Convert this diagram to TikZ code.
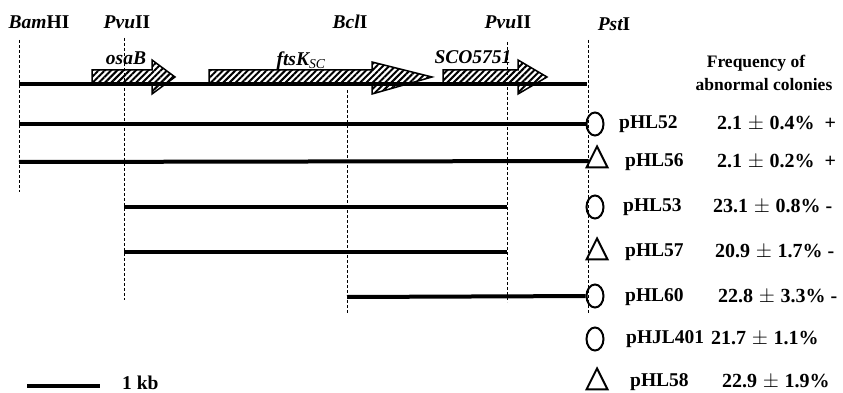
\documentclass[tikz,border=0pt]{standalone}
\usepackage{fontspec}
\setmainfont{Liberation Serif}
\usetikzlibrary{shapes.geometric,patterns.meta}
\newcommand{\pmsp}{\hspace{0.28em}$\pm$\hspace{0.28em}}
\tikzset{
  lbl/.style={inner sep=0pt, font=\fontsize{19.5}{22}\selectfont\bfseries},
  val/.style={inner sep=0pt, anchor=west, font=\fontsize{20}{22}\selectfont\bfseries},
  hdr/.style={inner sep=0pt, font=\fontsize{17.5}{21}\selectfont\bfseries, align=center},
  frag/.style={line width=4pt},
  site/.style={line width=1pt, dash pattern=on 3pt off 2pt},
  gene/.style={draw, line width=1.5pt, line join=miter, pattern={Lines[angle=45,distance=4.4pt,line width=2pt]}},
  ring/.style={draw, ellipse, line width=2pt, minimum width=17pt, minimum height=23pt, inner sep=0pt},
  tri/.style={draw, isosceles triangle, shape border rotate=90, isosceles triangle stretches, minimum width=21pt, minimum height=21pt, inner sep=0pt, line width=2pt, line join=miter}
}
\begin{document}
\begin{tikzpicture}[x=1pt,y=-1pt]
\useasboundingbox (0,0) rectangle (843,393);

% restriction sites
\node[lbl] (bam) at (39,22) {\itshape Bam\upshape HI};
\node[lbl] (pvu1) at (127,22) {\itshape Pvu\upshape II};
\node[lbl] (bcl) at (350,22) {\itshape Bcl\upshape I};
\node[lbl] (pvu2) at (508,22) {\itshape Pvu\upshape II};
\node[lbl] (pst) at (614,24) {\itshape Pst\upshape I};

\coordinate (bamT) at (19,40);  \coordinate (bamB) at (19,192);
\coordinate (pv1T) at (124,38); \coordinate (pv1B) at (124,300);
\coordinate (bclT) at (347,90); \coordinate (bclB) at (347,313);
\coordinate (pv2T) at (507,42); \coordinate (pv2B) at (507,302);
\coordinate (pstT) at (588,40); \coordinate (pstB) at (588,313);
\draw[site] (bamT) -- (bamB);
\draw[site] (pv1T) -- (pv1B);
\draw[site] (bclT) -- (bclB);
\draw[site] (pv2T) -- (pv2B);
\draw[site] (pstT) -- (pstB);

% map line
\coordinate (m0) at (19,84); \coordinate (m1) at (587,84);
\draw[frag] (m0) -- (m1);

% genes
\draw[gene] (92,70) -- (152,70) -- (152,60) -- (175,77) -- (152,94) -- (152,84) -- (92,84) -- cycle;
\draw[gene] (209,70) -- (372,70) -- (372,62) -- (432,77) -- (372,94) -- (372,84) -- (209,84) -- cycle;
\draw[gene] (443,70) -- (518,70) -- (518,60) -- (547,77) -- (518,94) -- (518,84) -- (443,84) -- cycle;
\node[lbl] (osaB) at (126,58) {\itshape osaB};
\node[lbl] (ftsK) at (301,61) {\itshape ftsK$_{\mathbf{\mathit{SC}}}$};
\node[lbl] (sco) at (473,57) {\itshape SCO5751};

% header
\node[hdr] (freq1) at (756,63) {Frequency of};
\node[hdr] (freq2) at (764,85) {abnormal colonies};

% markers
\node[ring] (e52) at (595,124) {};
\node[tri]  (t56) at (597,161) {};
\node[ring] (e53) at (595,207) {};
\node[tri]  (t57) at (597,253) {};
\node[ring] (e60) at (595,296) {};
\node[ring] (e401) at (595,339) {};
\node[tri]  (t58) at (597,383) {};

% fragments
\coordinate (f52) at (19,124);
\coordinate (f56) at (19,162);
\coordinate (f53a) at (124,207); \coordinate (f53b) at (507,207);
\coordinate (f57a) at (124,252); \coordinate (f57b) at (507,252);
\coordinate (f60) at (347,297);
\draw[frag] (f52) -- (e52);
\draw[frag] (f56) -- (t56);
\draw[frag] (f53a) -- (f53b);
\draw[frag] (f57a) -- (f57b);
\draw[frag] (f60) -- (e60);

% plasmid names
\node[lbl, anchor=west] (n52) at (619,124) {pHL52};
\node[lbl, anchor=west] (n56) at (625,162) {pHL56};
\node[lbl, anchor=west] (n53) at (623,207) {pHL53};
\node[lbl, anchor=west] (n57) at (625,252) {pHL57};
\node[lbl, anchor=west] (n60) at (625,297) {pHL60};
\node[lbl, anchor=west] (n401) at (626,339) {pHJL401};
\node[lbl, anchor=west] (n58) at (630,382) {pHL58};

% frequencies
\node[val] (v52) at (717,124) {2.1\pmsp0.4\%\ \ +};
\node[val] (v56) at (717,162) {2.1\pmsp0.2\%\ \ +};
\node[val] (v53) at (713,207) {23.1\pmsp0.8\% -};
\node[val] (v57) at (715,252) {20.9\pmsp1.7\% -};
\node[val] (v60) at (718,297) {22.8\pmsp3.3\% -};
\node[val] (v401) at (711,339) {21.7\pmsp1.1\%};
\node[val] (v58) at (722,382) {22.9\pmsp1.9\%};

% scale bar
\coordinate (s0) at (27,386); \coordinate (s1) at (100,386);
\draw[frag] (s0) -- (s1);
\node[lbl, anchor=west] (kb) at (122,383) {1 kb};
\end{tikzpicture}
\end{document}
